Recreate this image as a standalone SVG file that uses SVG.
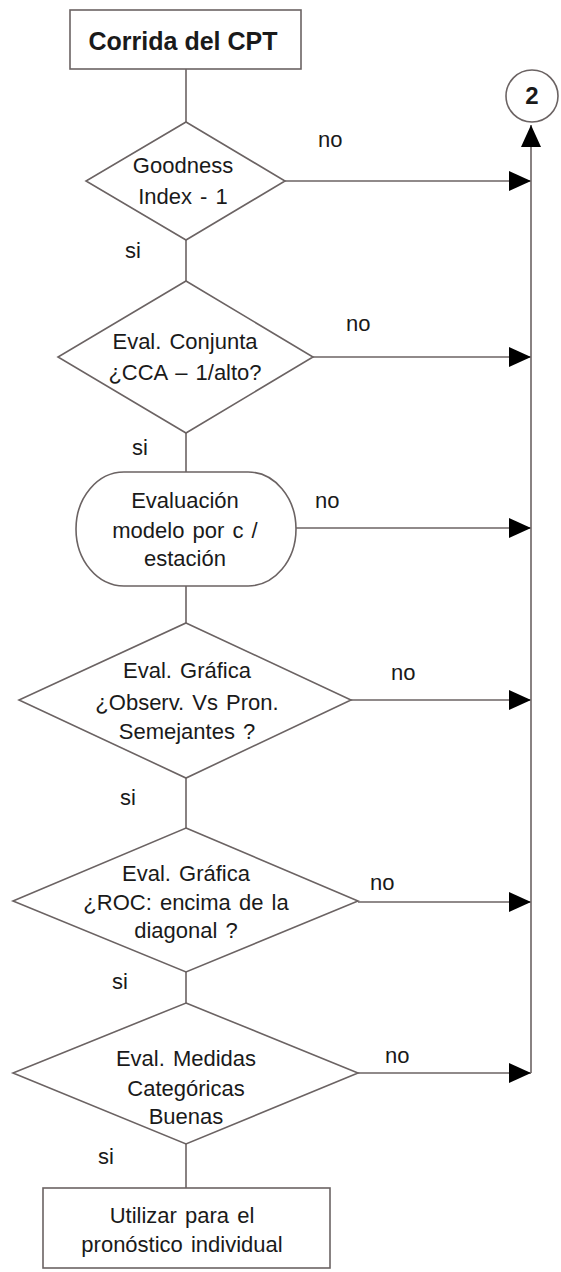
<svg xmlns="http://www.w3.org/2000/svg" width="561" height="1272" viewBox="0 0 561 1272">
<defs>
<style>
.s{fill:#fff;stroke:#6b6363;stroke-width:1.6}
.c{fill:none;stroke:#6b6363;stroke-width:1.6}
.t{font-family:"Liberation Sans",Arial,sans-serif;font-size:22px;fill:#1a1a1a;text-anchor:middle;word-spacing:2px}
.b{font-weight:bold}
.l{font-family:"Liberation Sans",Arial,sans-serif;font-size:22px;fill:#1a1a1a}
</style>
<marker id="ah" markerUnits="userSpaceOnUse" markerWidth="24" markerHeight="22" viewBox="0 0 24 22" refX="23" refY="11" orient="auto">
<path d="M1,1 L23,11 L1,21 Z" fill="#000"/>
</marker>
</defs>
<rect width="561" height="1272" fill="#fff"/>
<g id="connectors">
<line class="c" x1="186" y1="69" x2="186" y2="122"/>
<line class="c" x1="186" y1="240" x2="186" y2="281"/>
<line class="c" x1="186" y1="433" x2="186" y2="472"/>
<line class="c" x1="186" y1="586" x2="186" y2="623"/>
<line class="c" x1="186" y1="778" x2="186" y2="828"/>
<line class="c" x1="186" y1="972" x2="186" y2="1003"/>
<line class="c" x1="186" y1="1144" x2="186" y2="1188"/>
<line class="c" x1="285" y1="181" x2="531" y2="181" marker-end="url(#ah)"/>
<line class="c" x1="313" y1="357" x2="531" y2="357" marker-end="url(#ah)"/>
<line class="c" x1="296" y1="528" x2="531" y2="528" marker-end="url(#ah)"/>
<line class="c" x1="351" y1="700" x2="531" y2="700" marker-end="url(#ah)"/>
<line class="c" x1="358" y1="902" x2="531" y2="902" marker-end="url(#ah)"/>
<line class="c" x1="358" y1="1073" x2="531" y2="1073" marker-end="url(#ah)"/>
<line class="c" x1="531" y1="1073" x2="531" y2="125" marker-end="url(#ah)"/>
<text class="l" x="318" y="147">no</text>
<text class="l" x="125" y="258">si</text>
<text class="l" x="346" y="331">no</text>
<text class="l" x="132" y="455">si</text>
<text class="l" x="315" y="508">no</text>
<text class="l" x="391" y="680">no</text>
<text class="l" x="120" y="805">si</text>
<text class="l" x="370" y="890">no</text>
<text class="l" x="112" y="989">si</text>
<text class="l" x="385" y="1063">no</text>
<text class="l" x="98" y="1164">si</text>
</g>
<g id="start">
<rect class="s" x="70" y="10" width="231" height="59"/>
<text class="t b" x="183" y="50" font-size="25" style="font-size:25px;word-spacing:0">Corrida del CPT</text>
</g>
<g id="connector2">
<circle class="s" cx="532" cy="96" r="26"/>
<text class="t b" x="532" y="104" style="font-size:24px">2</text>
</g>
<g id="goodness">
<polygon class="s" points="186,122 285,181 186,240 86,181"/>
<text class="t" x="183" y="173">Goodness</text>
<text class="t" x="183" y="204">Index  - 1</text>
</g>
<g id="conjunta">
<polygon class="s" points="186,281 313,357 186,433 58,357"/>
<text class="t" x="185" y="349">Eval. Conjunta</text>
<text class="t" x="185" y="380">¿CCA – 1/alto?</text>
</g>
<g id="evaluacion">
<rect class="s" x="76" y="472" width="220" height="114" rx="48" ry="57"/>
<text class="t" x="185" y="508">Evaluación</text>
<text class="t" x="185" y="538">modelo por c /</text>
<text class="t" x="185" y="566">estación</text>
</g>
<g id="grafica1">
<polygon class="s" points="186,623 351,700 186,778 19,700"/>
<text class="t" x="187" y="678">Eval. Gráfica</text>
<text class="t" x="187" y="710">¿Observ. Vs Pron.</text>
<text class="t" x="187" y="739">Semejantes ?</text>
</g>
<g id="grafica2">
<polygon class="s" points="186,828 358,901 186,972 13,901"/>
<text class="t" x="186" y="881">Eval. Gráfica</text>
<text class="t" x="186" y="910">¿ROC: encima de la</text>
<text class="t" x="186" y="938">diagonal ?</text>
</g>
<g id="medidas">
<polygon class="s" points="186,1003 358,1073 186,1144 13,1073"/>
<text class="t" x="186" y="1066">Eval. Medidas</text>
<text class="t" x="186" y="1096">Categóricas</text>
<text class="t" x="186" y="1124">Buenas</text>
</g>
<g id="utilizar">
<rect class="s" x="43" y="1188" width="287" height="80"/>
<text class="t" x="182" y="1223">Utilizar para el</text>
<text class="t" x="182" y="1252">pronóstico individual</text>
</g>
</svg>
